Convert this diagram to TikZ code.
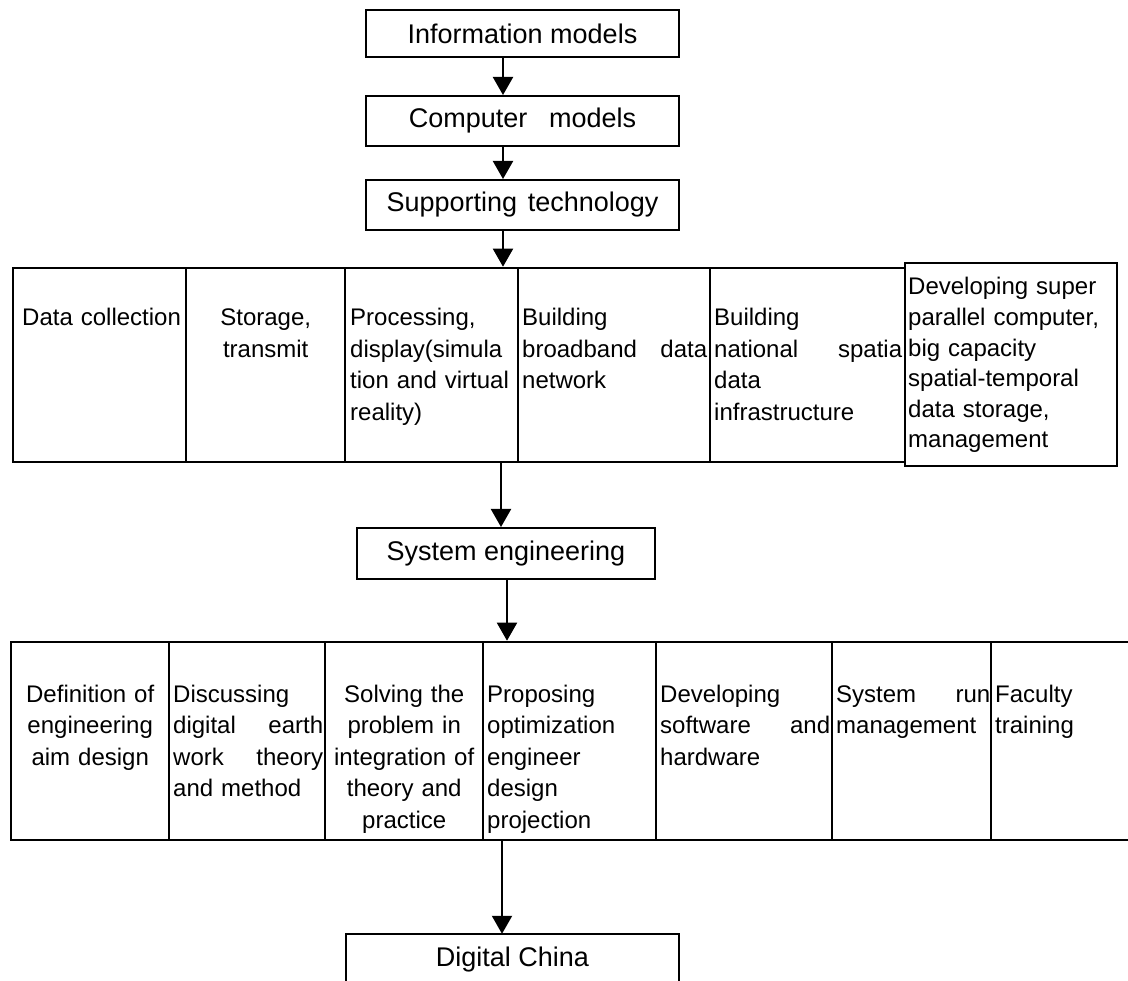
\documentclass[tikz,border=0pt]{standalone}
\usepackage{fontspec}
\setmainfont{Liberation Sans}
\usetikzlibrary{positioning,calc,arrows.meta}

\begin{document}
\begin{tikzpicture}[x=1pt,y=-1pt,
    titlebox/.style={draw,line width=2pt,inner sep=0pt,font=\fontsize{27}{30}\selectfont},
    tabframe/.style={draw,line width=2.6pt,inner sep=0pt},
    sep/.style={line width=2.6pt},
    cell/.style={anchor=base west,inner sep=0pt,align=left,font=\fontsize{24}{31.5}\selectfont},
    ccell/.style={cell,align=center},
    arr/.style={line width=2pt,-{Triangle[width=20pt,length=18pt]}}]
    \useasboundingbox (0,0) rectangle (1128,981);

    \node[titlebox,minimum width=313pt,minimum height=47pt] (info) at (522.5,33.5) {Information models};
    \node[titlebox,minimum width=313pt,minimum height=50pt] (comp) at (522.5,121) {Computer\hspace{0.8em}models};
    \node[titlebox,minimum width=313pt,minimum height=50pt] (supp) at (522.5,205) {Supporting\hspace{0.4em}technology};

    \node[tabframe,minimum width=892pt,minimum height=194pt] (tabA) at (459,365) {};
    \node[tabframe,minimum width=212pt,minimum height=203pt] (devsup) at (1011,364.5) {};
    \foreach \x in {186,345,518,710}
        \draw[sep] (\x,268) -- (\x,462);
    \node[cell,text width=160pt] (datcol) at (22,326) {Data collection};
    \node[ccell,text width=159pt] (stor) at (186,326) {Storage,\\transmit};
    \node[cell,text width=166pt] (proc) at (350,326) {Processing,\\display(simula\\tion and virtual\\reality)};
    \node[cell,text width=185pt] (bband) at (522,326) {Building\\broadband\hfill data\\network};
    \node[cell,text width=188pt] (natsp) at (714,326) {Building\\national\hfill spatia\\data\\infrastructure};
    \node[cell,text width=205pt,font=\fontsize{24}{30.6}\selectfont] (devtxt) at (908,295) {Developing super\\parallel computer,\\big capacity\\spatial-temporal\\data storage,\\management};

    \node[titlebox,minimum width=298pt,minimum height=51pt] (sys) at (506,553.5) {System engineering};

    \node[tabframe,minimum width=1129pt,minimum height=198pt] (tabB) at (575.5,741) {};
    \foreach \x in {169,325,483,656,832,991}
        \draw[sep] (\x,642) -- (\x,840);
    \node[ccell,text width=158pt] (aim) at (11,702) {Definition of\\engineering\\aim design};
    \node[cell,text width=150pt] (disc) at (173,702) {Discussing\\digital\hfill earth\\work\hfill theory\\and method};
    \node[ccell,text width=158pt] (solv) at (325,702) {Solving the\\problem in\\integration of\\theory and\\practice};
    \node[cell,text width=165pt] (prop) at (487,702) {Proposing\\optimization\\engineer\\design\\projection};
    \node[cell,text width=170pt] (soft) at (660,702) {Developing\\software\hfill and\\hardware};
    \node[cell,text width=154pt] (run) at (836,702) {System\hfill run\\management};
    \node[cell,text width=130pt] (fac) at (995,702) {Faculty\\training};

    \node[inner sep=0pt,minimum width=333pt,minimum height=52pt,font=\fontsize{27}{30}\selectfont] (dig) at (512.5,960) {Digital China};
    \draw[line width=2pt] ([yshift=-12pt]dig.south west) -- (dig.north west) -- (dig.north east) -- ([yshift=-12pt]dig.south east);

    \coordinate (ax) at (503,0);
    \coordinate (bx) at (501,0);
    \coordinate (cx) at (507,0);
    \coordinate (dx) at (502,0);
    \draw[arr] (info.south -| ax) -- (comp.north -| ax);
    \draw[arr] (comp.south -| ax) -- (supp.north -| ax);
    \draw[arr] (supp.south -| ax) -- (tabA.north -| ax);
    \draw[arr] (tabA.south -| bx) -- (sys.north -| bx);
    \draw[arr] (sys.south -| cx) -- (tabB.north -| cx);
    \draw[arr] (tabB.south -| dx) -- (dig.north -| dx);
\end{tikzpicture}
\end{document}
